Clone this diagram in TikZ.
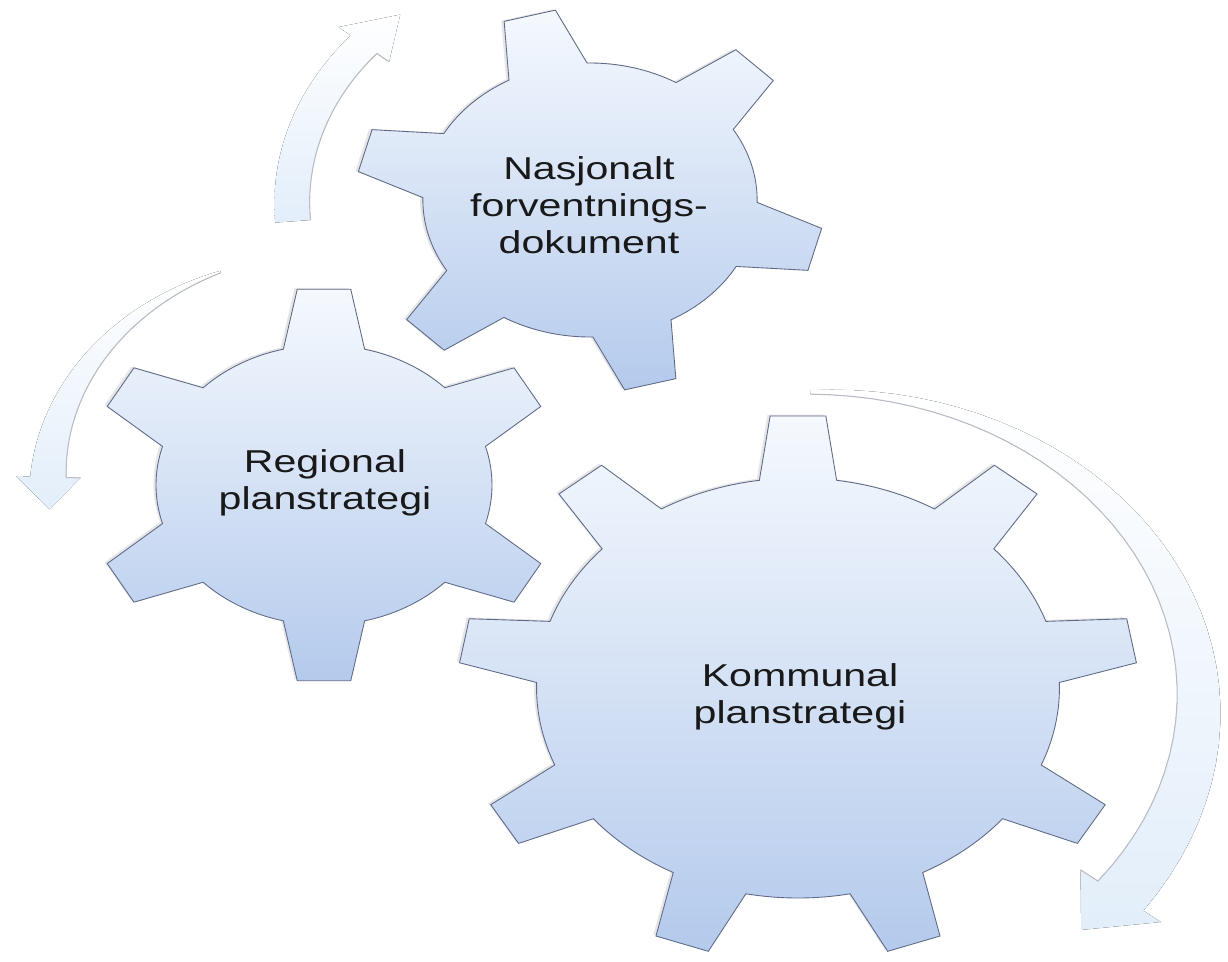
\documentclass[tikz,border=0pt]{standalone}
\usepackage{fontspec}
\setmainfont{Liberation Sans}
\usetikzlibrary{positioning,shadows}

\definecolor{gearlight}{RGB}{245,249,254}
\definecolor{gearmid}{RGB}{226,235,248}
\definecolor{geardark}{RGB}{180,202,236}
\definecolor{gearedge}{RGB}{95,106,135}
\definecolor{arrowblue}{RGB}{226,238,250}
\definecolor{arrowgray}{RGB}{185,188,196}

% gear outline: teeth, tip radius, root radius, tip half-angle, root half-angle
\newcommand{\gearpath}[5]{%
  (-#5:#3)
  \foreach \t in {1,...,#1}{
    -- ({360/#1*(\t-1)-#4}:#2) -- ({360/#1*(\t-1)+#4}:#2)
    -- ({360/#1*(\t-1)+#5}:#3)
    arc[start angle={360/#1*(\t-1)+#5}, end angle={360/#1*\t-#5}, radius=#3]
  } -- cycle}

% curved arrow: from, to, inner r (from,to), outer r (from,to), tip angle, barb
\newcommand{\arrowpath}[8]{%
  plot[domain=#1:#2, samples=40] (\x:{#3+(#4-#3)*(\x-(#1))/((#2)-(#1))})
  -- (#2:{#4-#8}) -- (#7:{(#4+#6)/2}) -- (#2:{#6+#8})
  -- plot[domain=#2:#1, samples=40] (\x:{#5+(#6-#5)*(\x-(#1))/((#2)-(#1))})
  -- cycle}
\newcommand{\arrowinner}[5]{%
  plot[domain=#1:#2, samples=40] (\x:{#3+(#4-#3)*(\x-(#1))/((#2)-(#1))})
  -- (#2:{#4-#5})}

\begin{document}
\begin{tikzpicture}[
    x=0.02cm, y=-0.02cm,
    gear/.style={top color=gearlight, middle color=gearmid, bottom color=geardark, draw=gearedge, line width=0.5pt},
    arrowband/.style={top color=white, bottom color=arrowblue},
    arrowline/.style={draw=arrowgray, line width=0.6pt},
    gearlabel/.style={align=center, font=\fontsize{18}{21}\selectfont, text=black!90, xscale=1.3}
]
    \useasboundingbox (0,0) rectangle (1228,961);

    % Arrows
    \begin{scope}[shift={(590,200)}, xscale=1.22, yscale=-1]
        \fill[arrowband] \arrowpath{185}{140}{230}{228}{259}{256}{130}{13};
        \draw[arrowline] \arrowinner{185}{140}{230}{228}{13};
    \end{scope}
    \begin{scope}[shift={(324,485)}, xscale=1.2, yscale=-1]
        \fill[arrowband] \arrowpath{112}{178}{229}{215}{231}{245}{186}{12};
        \draw[arrowline] \arrowinner{112}{178}{229}{215}{12};
    \end{scope}
    \begin{scope}[shift={(798,686)}, xscale=1.245, yscale=-1]
        \fill[arrowband] \arrowpath{88}{-39}{292}{310}{296}{357}{-47}{18};
        \draw[arrowline] \arrowinner{88}{-39}{292}{310}{18};
    \end{scope}

    % Gears
    \begin{scope}[shift={(590,200)}, xscale=1.22, rotate=105, yscale=-1]
        \draw[gear, drop shadow={opacity=0.2, shadow xshift=-1.66pt, shadow yshift=0.4pt}]
            \gearpath{6}{192}{137}{6.5}{14};
    \end{scope}
    \begin{scope}[shift={(324,485)}, xscale=1.2, rotate=90, yscale=-1]
        \draw[gear, drop shadow={opacity=0.2, shadow xshift=-1.5pt, shadow yshift=0.83pt}]
            \gearpath{6}{197}{140}{6.5}{14};
    \end{scope}
    \begin{scope}[shift={(798,688)}, xscale=1.245, rotate=90, yscale=-1]
        \draw[gear, drop shadow={opacity=0.2, shadow xshift=-1.5pt, shadow yshift=0.8pt}]
            \gearpath{9}{273}{210}{4.7}{8.5};
    \end{scope}

    % Labels
    \node[gearlabel] (nasjonalt) at (589,205) {Nasjonalt\\forventnings-\\dokument};
    \node[gearlabel] (regional) at (325,483) {Regional\\planstrategi};
    \node[gearlabel] (kommunal) at (800,697) {Kommunal\\planstrategi};
\end{tikzpicture}
\end{document}
